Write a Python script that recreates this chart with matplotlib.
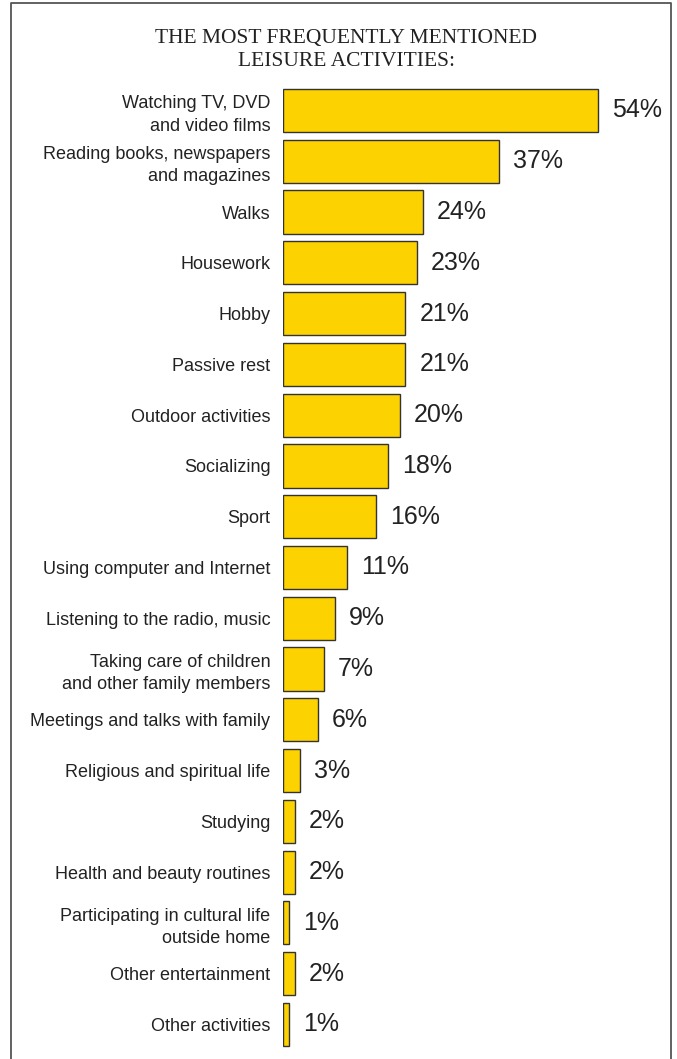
import matplotlib.pyplot as plt
from matplotlib.lines import Line2D

activities = [
    'Watching TV, DVD\nand video films',
    'Reading books, newspapers\nand magazines',
    'Walks',
    'Housework',
    'Hobby',
    'Passive rest',
    'Outdoor activities',
    'Socializing',
    'Sport',
    'Using computer and Internet',
    'Listening to the radio, music',
    'Taking care of children\nand other family members',
    'Meetings and talks with family',
    'Religious and spiritual life',
    'Studying',
    'Health and beauty routines',
    'Participating in cultural life\noutside home',
    'Other entertainment',
    'Other activities',
]
shares = [54, 37, 24, 23, 21, 21, 20, 18, 16, 11, 9, 7, 6, 3, 2, 2, 1, 2, 1]

W, H = 677, 1059
fig = plt.figure(figsize=(W / 100, H / 100), dpi=100, facecolor='white')

# plot area: bars start at x=283 px, top of plot just under the title
ax = fig.add_axes([283 / W, 0, (672 - 283) / W, 1 - 85 / H])
pos = list(range(len(activities)))
ax.barh(pos, shares, height=0.85, color='#FCD200', edgecolor='#333333', linewidth=1.0)
ax.set_xlim(0, 389 / 5.83)
ax.set_ylim(18.68, -0.502)

ax.set_yticks(pos)
ax.set_yticklabels(activities, fontsize=13, family='Liberation Sans', color='#222222',
                   linespacing=1.4, ha='right')
ax.tick_params(axis='y', length=0, pad=9)
ax.set_xticks([])
for s in ax.spines.values():
    s.set_visible(False)

for p, v in zip(pos, shares):
    ax.annotate('%d%%' % v, xy=(v, p), xytext=(10, 0), textcoords='offset points',
                ha='left', va='center', fontsize=18, family='Liberation Sans', color='#222222')

fig.text(346 / W, 1 - 50 / H, 'THE MOST FREQUENTLY MENTIONED\nLEISURE ACTIVITIES:',
         ha='center', va='center', fontsize=15.5, family='Liberation Serif',
         color='#222222', linespacing=1.3)

# open-bottom frame around the chart
frame_x = [11 / W, 11 / W, 671 / W, 671 / W]
frame_y = [0, 1 - 3 / H, 1 - 3 / H, 0]
fig.add_artist(Line2D(frame_x, frame_y, color='#555555', linewidth=1.3,
                      transform=fig.transFigure))

fig.savefig('out.png', dpi=100)
